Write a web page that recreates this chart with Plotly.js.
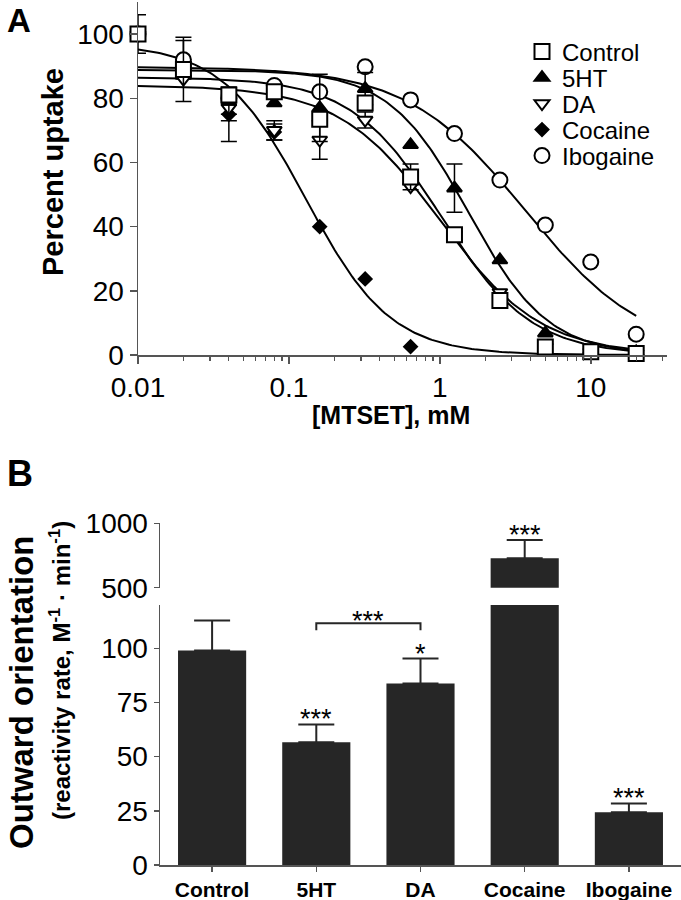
<!DOCTYPE html>
<html>
<head>
<meta charset="utf-8">
<script src="https://cdn.plot.ly/plotly-3.0.1.min.js"></script>
<style>html,body{margin:0;padding:0;background:#fff;}#chart{width:681px;height:900px;}</style>
</head>
<body>
<div id="chart"></div>
<script>
// ---------- Panel A data ----------
const conc = [0.01, 0.02, 0.04, 0.08, 0.16, 0.32, 0.64, 1.25, 2.5, 5, 10, 20];
const seriesNames = ['Control', '5HT', 'DA', 'Cocaine', 'Ibogaine'];
const controlUptake  = [100, 89, 81, 82, 73.5, 78.5, 55.5, 37.5, 17, 2.5, 1, 0.5];
const controlErr     = [6, 10, NaN, NaN, NaN, NaN, 4, 2, NaN, NaN, NaN, NaN];
const ht5Uptake      = [100, 88, 79, 78.5, 77, 83, 65.5, 52, 29.6, 6.8, 1.5, 1];
const ht5Err         = [NaN, NaN, 4, NaN, 10.5, 5, NaN, 7.5, NaN, NaN, NaN, NaN];
const daUptake       = [100, 86, 77, 70, 67, 73.2, 52.5, 37.5, 19.5, 2.5, 1, 0.5];
const daErr          = [NaN, NaN, 4, 3, 6, 2.5, NaN, NaN, NaN, NaN, NaN, NaN];
const cocaineUptake  = [100, 88, 75, 69.5, 40, 23.7, 2.6];
const cocaineErr     = [NaN, NaN, 8.5, 2.5, NaN, NaN, NaN];
const ibogaineUptake = [100, 92, 80, 84, 82, 89.8, 79.5, 69, 54.5, 40.5, 29, 6.5];
const ibogaineErr    = [NaN, 6, NaN, NaN, NaN, NaN, NaN, NaN, NaN, NaN, NaN, NaN];
// sigmoidal fit parameters (Control, 5HT, DA, Cocaine, Ibogaine)
const fitTop    = [86.5, 88.8, 84, 97, 89.8];
const fitBottom = [0, 0, 0, 0, 0];
const fitIC50   = [1.02, 1.55, 1.0, 0.13, 3.71];
const fitHill   = [1.45, 1.65, 1.3, 1.55, 1.1];
const fitRange  = [0.01, 20];
const xTickVals = [0.01, 0.1, 1, 10];
const xTickText = ['0.01', '0.1', '1', '10'];
const yTickValsA = [0, 20, 40, 60, 80, 100];

// ---------- Panel B data ----------
const treatments = ['Control', '5HT', 'DA', 'Cocaine', 'Ibogaine'];
const reactivity = [99, 56.6, 83.8, 728, 24.3];
const reactivityErr = [13.8, 8.3, 11.5, 142, 4.1];
const significance = ['', '***', '*', '***', '***'];
const yTickValsLow = [0, 25, 50, 75, 100];
const yTickValsHigh = [500, 1000];

// ---------- styles ----------
const FONT = 'Liberation Sans, Arial, sans-serif';
const AX = '#555';
const symbols = ['square', 'triangle-up', 'triangle-down', 'diamond', 'circle'];
const fills = ['#fff', '#000', '#fff', '#000', '#fff'];
const sizes = [15, 13, 13, 10, 15];
const ys = [controlUptake, ht5Uptake, daUptake, cocaineUptake, ibogaineUptake];
const errs = [controlErr, ht5Err, daErr, cocaineErr, ibogaineErr];
const legendIds = ['legend', 'legend2', 'legend3', 'legend4', 'legend5'];

const traces = [];
// fitted curves
for (let i = 0; i < 5; i++) {
  const xs = [], yv = [];
  const n = 200;
  const l0 = Math.log10(fitRange[0]), l1 = Math.log10(fitRange[1]);
  for (let k = 0; k <= n; k++) {
    const x = Math.pow(10, l0 + (l1 - l0) * k / n);
    xs.push(x);
    yv.push(fitBottom[i] + (fitTop[i] - fitBottom[i]) / (1 + Math.pow(x / fitIC50[i], fitHill[i])));
  }
  traces.push({x: xs, y: yv, xaxis: 'x', yaxis: 'y', mode: 'lines', showlegend: false,
    line: {color: '#000', width: 2}, hoverinfo: 'skip'});
}
// data points (drawn Ibogaine first so Control ends on top)
for (const i of [4, 3, 2, 1, 0]) {
  traces.push({
    x: conc.slice(0, ys[i].length), y: ys[i], xaxis: 'x', yaxis: 'y', mode: 'markers',
    name: seriesNames[i], legend: legendIds[i], cliponaxis: false,
    marker: {symbol: symbols[i], size: sizes[i], color: fills[i], line: {color: '#000', width: 2}},
    error_y: {type: 'data', array: errs[i], symmetric: true, color: '#000', thickness: 1.5, width: 8}
  });
}

// bars lower
traces.push({x: treatments, y: reactivity, type: 'bar', xaxis: 'x2', yaxis: 'y2', showlegend: false,
  marker: {color: '#262626', line: {width: 0}},
  error_y: {type: 'data', symmetric: false, array: reactivityErr.map((e, i) => reactivity[i] > 120 ? NaN : e),
            arrayminus: reactivityErr.map((e, i) => reactivity[i] > 120 ? NaN : 0), color: '#262626', thickness: 2, width: 18}});
// bars upper (broken axis)
traces.push({x: treatments, y: reactivity.map(v => v > 500 ? v : null), type: 'bar', xaxis: 'x3', yaxis: 'y3', showlegend: false,
  marker: {color: '#262626', line: {width: 0}},
  error_y: {type: 'data', symmetric: false, array: reactivityErr.map((e, i) => reactivity[i] > 500 ? e : NaN),
            arrayminus: reactivityErr.map((e, i) => reactivity[i] > 500 ? 0 : NaN), color: '#262626', thickness: 2, width: 18}});

const minorVals = [];
for (const d of [0.01, 0.1, 1, 10]) for (let m = 2; m <= 9; m++) { const v = d * m; if (v <= 32) minorVals.push(v); }

const tickFontA = {family: FONT, size: 28, color: '#000'};
const tickFontB = {family: FONT, size: 28, color: '#000'};
const commonAx = {showline: true, linecolor: AX, linewidth: 1.5, ticks: 'outside', tickcolor: AX, tickwidth: 1.5,
  showgrid: false, zeroline: false};

const annotations = [
  {text: '<b>A</b>', x: 5 / 681, y: 1, xref: 'paper', yref: 'paper', xanchor: 'left', yanchor: 'top', showarrow: false, font: {family: FONT, size: 33, color: '#000'}},
  {text: '<b>B</b>', x: 5 / 681, y: 1 - 451 / 900, xref: 'paper', yref: 'paper', xanchor: 'left', yanchor: 'top', showarrow: false, font: {family: FONT, size: 36, color: '#000'}},
  {text: '<b>Percent uptake</b>', textangle: -90, x: 53 / 681, y: 1 - 172 / 900, xref: 'paper', yref: 'paper', xanchor: 'center', yanchor: 'middle', showarrow: false, font: {family: FONT, size: 29, color: '#000'}},
  {text: '<b>[MTSET], mM</b>', x: 391 / 681, y: 1 - 415 / 900, xref: 'paper', yref: 'paper', xanchor: 'center', yanchor: 'middle', showarrow: false, font: {family: FONT, size: 25, color: '#000'}},
  {text: '<b>Outward orientation</b>', textangle: -90, x: 21 / 681, y: 1 - 692 / 900, xref: 'paper', yref: 'paper', xanchor: 'center', yanchor: 'middle', showarrow: false, font: {family: FONT, size: 33, color: '#000'}},
  {text: '<b>(reactivity rate, M<sup>-1</sup> · min<sup>-1</sup>)</b>', textangle: -90, x: 60 / 681, y: 1 - 671 / 900, xref: 'paper', yref: 'paper', xanchor: 'center', yanchor: 'middle', showarrow: false, font: {family: FONT, size: 24, color: '#000'}},
  {text: '***', x: 1.5, y: 111.6, xref: 'x2', yref: 'y2', xanchor: 'center', yanchor: 'middle', yshift: 2, showarrow: false, font: {family: FONT, size: 27, color: '#000'}}
];
treatments.forEach((t, i) => {
  if (!significance[i]) return;
  const top = reactivity[i] + reactivityErr[i];
  annotations.push({text: significance[i], x: t, y: top, xref: reactivity[i] > 500 ? 'x3' : 'x2', yref: reactivity[i] > 500 ? 'y3' : 'y2',
    xanchor: 'center', yanchor: 'middle', yshift: 5, showarrow: false, font: {family: FONT, size: 27, color: '#000'}});
});

const legendRowY = [52, 78, 104, 130, 156];
const layout = {
  width: 681, height: 900, margin: {l: 0, r: 0, t: 0, b: 0},
  paper_bgcolor: '#fff', plot_bgcolor: 'rgba(0,0,0,0)',
  font: {family: FONT, color: '#000'},
  showlegend: true,
  xaxis: Object.assign({}, commonAx, {type: 'log', domain: [138 / 681, 667 / 681], anchor: 'y', range: [-2, Math.log10(32)],
    tickmode: 'array', tickvals: xTickVals, ticktext: xTickText, ticklen: 7, tickfont: tickFontA,
    minor: {tickmode: 'array', tickvals: minorVals, ticklen: 4, tickcolor: AX, tickwidth: 1.2, ticks: 'outside', showgrid: false}}),
  yaxis: Object.assign({}, commonAx, {domain: [545 / 900, 898 / 900], anchor: 'x', range: [0, 110], tickmode: 'array', tickvals: yTickValsA, ticklen: 7, tickfont: tickFontA}),
  xaxis2: Object.assign({}, commonAx, {domain: [160 / 681, 1], anchor: 'y2', type: 'category', range: [-0.5, 4.5], ticklen: 5,
    tickfont: {family: FONT, size: 21, color: '#000', weight: 'bold'}}),
  yaxis2: Object.assign({}, commonAx, {domain: [35 / 900, 295 / 900], anchor: 'x2', range: [0, 120], tickmode: 'array', tickvals: yTickValsLow, ticklen: 5, tickfont: tickFontB}),
  xaxis3: {domain: [160 / 681, 1], anchor: 'y3', type: 'category', range: [-0.5, 4.5], visible: false, showgrid: false, zeroline: false},
  yaxis3: Object.assign({}, commonAx, {domain: [312.3 / 900, 376.7 / 900], anchor: 'x3', range: [500, 1000], tickmode: 'array', tickvals: yTickValsHigh, ticklen: 5, tickfont: tickFontB}),
  bargap: 0.346,
  annotations: annotations,
  shapes: [
    {type: 'path', xref: 'x2', yref: 'y2', path: 'M 1,108.4 L 1,111.6 L 2,111.6 L 2,108.4', line: {color: '#262626', width: 2}}
  ]
};
legendIds.forEach((id, i) => {
  layout[id] = {x: 522 / 681, y: 1 - legendRowY[i] / 900, xanchor: 'left', yanchor: 'middle', bgcolor: 'rgba(0,0,0,0)',
    font: {family: FONT, size: 24, color: '#000'}, itemclick: false, borderwidth: 0};
});

Plotly.newPlot('chart', traces, layout, {staticPlot: true});
</script>
</body>
</html>
